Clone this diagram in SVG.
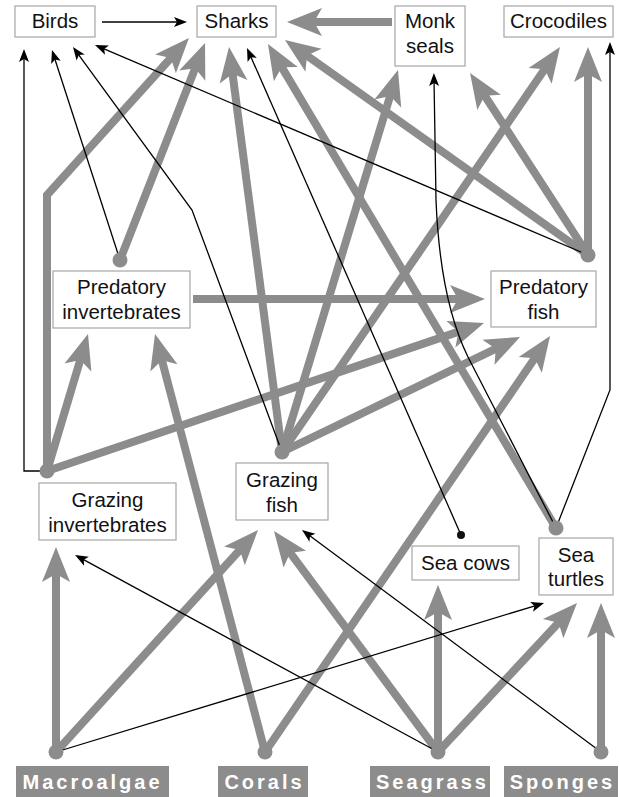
<svg xmlns="http://www.w3.org/2000/svg" width="619" height="797" viewBox="0 0 619 797">
<style>
.box{fill:#fff;stroke:#a6a6a6;stroke-width:1.2}
.lbl{font-family:"Liberation Sans",Arial,sans-serif;font-size:20.5px;fill:#111;text-anchor:middle}
.pbox{fill:#8c8c8c}
.plbl{font-family:"Liberation Sans",Arial,sans-serif;font-size:20px;font-weight:bold;fill:#fff;text-anchor:middle;letter-spacing:3px}
.g{fill:none;stroke:#8c8c8c;stroke-width:8;marker-end:url(#ag)}
.b{fill:none;stroke:#000;stroke-width:1.3;marker-end:url(#ab)}
.gd{fill:#8c8c8c}
.bd{fill:#111}
</style>
<defs>
<marker id="ag" markerUnits="userSpaceOnUse" viewBox="-40 -16 42 32" markerWidth="42" markerHeight="32" refX="-22" refY="0" orient="auto">
<path d="M0,0 L-35,-14 L-27,0 L-35,14 z" fill="#8c8c8c"/>
</marker>
<marker id="ab" markerUnits="userSpaceOnUse" viewBox="-16 -7 18 14" markerWidth="18" markerHeight="14" refX="-6" refY="0" orient="auto">
<path d="M0,0 L-13,-5 L-10,0 L-13,5 z" fill="#000"/>
</marker>
</defs>
<g id="connectors">
<path class="g" d="M392,22 L309,22"/>
<path class="g" d="M47,471 L47,195 L174.2,54.3"/>
<path class="g" d="M120,260 L197,63.5"/>
<path class="g" d="M282,452 L231.9,68.8"/>
<path class="g" d="M556,528 L279.2,62.9"/>
<path class="g" d="M588,255 L302.9,52.7"/>
<path class="g" d="M282,452 L391.6,91.1"/>
<path class="g" d="M588,255 L482,91.5"/>
<path class="g" d="M282,452 L547.5,65.1"/>
<path class="g" d="M588,255 L588,69"/>
<path class="g" d="M193,299 L463,299"/>
<path class="g" d="M47,471 L463.2,330.1"/>
<path class="g" d="M282,452 L500.2,346.6"/>
<path class="g" d="M265,752 L537.6,354.1"/>
<path class="g" d="M47,471 L81.7,355.1"/>
<path class="g" d="M265,752 L160.6,355.3"/>
<path class="g" d="M56,752 L56,569"/>
<path class="g" d="M56,752 L243.2,546.3"/>
<path class="g" d="M438,752 L287.1,548.7"/>
<path class="g" d="M438,752 L438,607"/>
<path class="g" d="M438,752 L562,619.1"/>
<path class="g" d="M601,752 L601,625"/>
<path class="b" d="M102,22 L181,22"/>
<path class="b" d="M47,471 L24,471 L24,55"/>
<path class="b" d="M120,260 L53.8,55.7"/>
<path class="b" d="M282,452 L192,210 L76.5,51.8"/>
<path class="b" d="M588,255 L100.5,47.4"/>
<path class="b" d="M461,535 L249.4,53.5"/>
<path class="b" d="M556,528 L468,357 Q440,300 436,200 L434,79"/>
<path class="b" d="M556,528 L610,390 L610,48"/>
<path class="b" d="M56,752 L538.3,604.8"/>
<path class="b" d="M438,752 L80.3,557.9"/>
<path class="b" d="M601,752 L306.8,533.6"/>
</g>
<g id="birds"><rect class="box" x="15" y="6" width="80" height="31"/><text class="lbl" x="55" y="28">Birds</text></g>
<g id="sharks"><rect class="box" x="197" y="6" width="79" height="31"/><text class="lbl" x="236.5" y="28">Sharks</text></g>
<g id="monk-seals"><rect class="box" x="395" y="6" width="70" height="60"/><text class="lbl" x="430" y="28">Monk</text><text class="lbl" x="430" y="53">seals</text></g>
<g id="crocodiles"><rect class="box" x="504" y="6" width="109" height="31"/><text class="lbl" x="558.5" y="28">Crocodiles</text></g>
<g id="predatory-invertebrates"><rect class="box" x="53" y="271" width="137" height="57"/><text class="lbl" x="121.5" y="294">Predatory</text><text class="lbl" x="121.5" y="319">invertebrates</text><circle class="gd" cx="120" cy="260" r="7.5"/></g>
<g id="predatory-fish"><rect class="box" x="491" y="271" width="105" height="56"/><text class="lbl" x="543.5" y="294">Predatory</text><text class="lbl" x="543.5" y="319">fish</text><circle class="gd" cx="588" cy="255" r="7.5"/></g>
<g id="grazing-invertebrates"><rect class="box" x="39" y="483" width="137" height="57"/><text class="lbl" x="107.5" y="507">Grazing</text><text class="lbl" x="107.5" y="532">invertebrates</text><circle class="gd" cx="47" cy="471" r="7.5"/></g>
<g id="grazing-fish"><rect class="box" x="236" y="463" width="92" height="57"/><text class="lbl" x="282" y="487">Grazing</text><text class="lbl" x="282" y="512">fish</text><circle class="gd" cx="282" cy="452" r="7.5"/></g>
<g id="sea-cows"><rect class="box" x="412" y="546" width="107" height="34"/><text class="lbl" x="465.5" y="570">Sea cows</text><circle class="bd" cx="461" cy="535" r="4"/></g>
<g id="sea-turtles"><rect class="box" x="539" y="538" width="74" height="57"/><text class="lbl" x="576" y="562">Sea</text><text class="lbl" x="576" y="586">turtles</text><circle class="gd" cx="556" cy="528" r="7.5"/></g>
<g id="macroalgae"><rect class="pbox" x="16" y="766" width="153" height="31"/><text class="plbl" x="92.5" y="789">Macroalgae</text><circle class="gd" cx="56" cy="752" r="7.5"/></g>
<g id="corals"><rect class="pbox" x="218" y="766" width="90" height="31"/><text class="plbl" x="264.5" y="789">Corals</text><circle class="gd" cx="265" cy="752" r="7.5"/></g>
<g id="seagrass"><rect class="pbox" x="370" y="766" width="120" height="31"/><text class="plbl" x="432.5" y="789">Seagrass</text><circle class="gd" cx="438" cy="752" r="7.5"/></g>
<g id="sponges"><rect class="pbox" x="504" y="766" width="114" height="31"/><text class="plbl" x="562.5" y="789">Sponges</text><circle class="gd" cx="601" cy="752" r="7.5"/></g>
</svg>
